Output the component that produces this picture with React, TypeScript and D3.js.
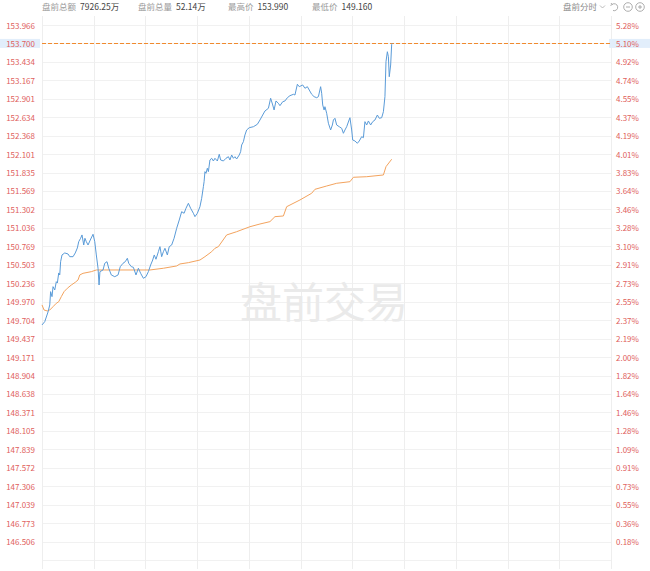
import React from 'react'
import * as d3 from 'd3'

// pre-market minutes since 04:00 and the traded price at that moment
const priceMinutes = [
  0, 1.6, 3.5, 4.5, 5.0, 5.8, 6.4, 7.4, 8.3, 8.9, 9.7, 10.3, 10.8, 11.6, 13.2, 15.1, 16.1, 18.0, 19.3, 20.5,
  21.3, 22.4, 23.2, 24.2, 24.9, 25.7, 26.7, 28.0, 29.6, 30.6, 31.5, 32.5, 33.1, 33.6, 35.4, 36.4, 37.7, 38.7, 40.2, 42.2,
  44.1, 45.4, 47.0, 48.3, 49.5, 50.3, 51.8, 53.0, 54.5, 55.9, 57.2, 58.8, 60.3, 61.7, 63.0, 64.2, 65.1, 66.1, 67.5, 68.4,
  69.4, 70.4, 71.3, 72.7, 73.8, 75.2, 76.6, 78.1, 79.6, 81.0, 82.4, 83.5, 84.9, 86.2, 87.8, 88.7, 90.1, 91.6, 92.6, 93.6,
  94.0, 94.5, 95.1, 95.9, 96.5, 97.4, 98.4, 99.4, 100.3, 101.7, 102.8, 103.6, 105.2, 106.7, 108.1, 109.0, 110.0, 111.0, 111.9, 112.9,
  114.4, 115.2, 115.8, 116.8, 117.7, 118.7, 120.2, 122.6, 124.9, 126.4, 128.0, 129.3, 131.3, 132.6, 133.8, 134.6, 135.7, 137.1, 138.0, 139.6,
  140.9, 142.3, 143.8, 145.8, 146.7, 148.1, 149.2, 151.2, 152.5, 153.9, 155.0, 156.4, 157.8, 159.3, 160.3, 161.6, 162.2, 162.8, 163.6, 164.1,
  165.1, 166.1, 167.4, 168.4, 169.0, 169.9, 170.9, 172.4, 173.8, 174.8, 175.7, 176.7, 178.1, 178.6, 179.6, 180.2, 181.5, 182.9, 184.0, 185.4,
  186.4, 187.3, 188.3, 189.3, 190.6, 191.8, 193.1, 194.5, 195.6, 197.0, 198.0, 198.9, 199.5, 200.3, 200.9, 201.4, 202.2, 202.8, 203.0,
]
const prices = [
  149.634, 149.682, 149.822, 149.923, 150.115, 150.043, 150.187, 150.139, 150.259, 150.24, 150.385, 150.356, 150.548, 150.645, 150.674, 150.659, 150.62, 150.62, 150.674, 150.746,
  150.837, 150.886, 150.934, 150.789, 150.886, 150.837, 150.789, 150.861, 150.944, 150.837, 150.645, 150.453, 150.211, 150.404, 150.428, 150.525, 150.548, 150.453, 150.356, 150.331,
  150.356, 150.476, 150.525, 150.548, 150.597, 150.525, 150.476, 150.467, 150.356, 150.453, 150.38, 150.308, 150.331, 150.404, 150.5, 150.572, 150.645, 150.583, 150.692, 150.765,
  150.62, 150.692, 150.741, 150.645, 150.765, 150.789, 150.886, 151.03, 151.15, 151.27, 151.247, 151.319, 151.391, 151.319, 151.247, 151.198, 151.247, 151.342, 151.463, 151.631,
  151.703, 151.848, 151.824, 151.897, 151.848, 152.017, 152.041, 152.002, 152.041, 152.002, 152.099, 152.017, 152.002, 152.041, 152.064, 152.017, 152.089, 152.041, 152.064, 152.031,
  152.089, 152.136, 152.233, 152.281, 152.378, 152.45, 152.483, 152.497, 152.532, 152.594, 152.666, 152.724, 152.763, 152.908, 152.811, 152.739, 152.869, 152.835, 152.801, 152.858,
  152.869, 152.916, 152.945, 152.965, 152.955, 153.11, 153.075, 153.1, 153.052, 153.075, 153.027, 152.965, 152.931, 152.916, 152.931, 153.075, 152.98, 152.811, 152.739, 152.786,
  152.691, 152.547, 152.45, 152.522, 152.594, 152.619, 152.522, 152.497, 152.474, 152.402, 152.45, 152.497, 152.594, 152.627, 152.45, 152.305, 152.291, 152.258, 152.291, 152.353,
  152.339, 152.57, 152.522, 152.58, 152.522, 152.57, 152.594, 152.666, 152.619, 152.627, 152.714, 152.931, 153.436, 153.58, 153.508, 153.219, 153.388, 153.687, 153.7,
]

// running average price
const avgMinutes = [
  0, 1.2, 3.1, 4.5, 6.4, 8.3, 9.7, 11.2, 12.8, 14.7, 17.0, 19.3, 20.9, 21.9, 23.8, 28.6, 31.5, 36.4, 55.7, 62.6,
  70.4, 78.1, 80.0, 84.9, 91.6, 94.5, 98.4, 100.3, 102.3, 107.1, 112.9, 120.6, 126.4, 132.2, 135.1, 140.0, 141.9, 149.6, 156.4, 158.3,
  165.1, 170.9, 178.6, 180.6, 188.3, 198.0, 199.5, 202.8,
]
const avgPrices = [
  149.923, 149.85, 149.836, 149.85, 149.898, 149.947, 149.97, 150.043, 150.115, 150.164, 150.211, 150.25, 150.284, 150.356, 150.38, 150.404, 150.428, 150.428, 150.428, 150.428,
  150.453, 150.486, 150.515, 150.534, 150.572, 150.62, 150.692, 150.741, 150.765, 150.934, 150.981, 151.053, 151.092, 151.126, 151.198, 151.208, 151.342, 151.439, 151.536, 151.593,
  151.641, 151.68, 151.703, 151.767, 151.775, 151.8, 151.92, 152.027,
]

const leftTicks = [
  '153.966', '153.700', '153.434', '153.167', '152.901', '152.634', '152.368', '152.101', '151.835', '151.569',
  '151.302', '151.036', '150.769', '150.503', '150.236', '149.970', '149.704', '149.437', '149.171', '148.904',
  '148.638', '148.371', '148.105', '147.839', '147.572', '147.306', '147.039', '146.773', '146.506',
]
const rightTicks = [
  '5.28%', '5.10%', '4.92%', '4.74%', '4.55%', '4.37%', '4.19%', '4.01%', '3.83%', '3.64%',
  '3.46%', '3.28%', '3.10%', '2.91%', '2.73%', '2.55%', '2.37%', '2.19%', '2.00%', '1.82%',
  '1.64%', '1.46%', '1.28%', '1.09%', '0.91%', '0.73%', '0.55%', '0.36%', '0.18%',
]
const prevClose = 146.2396
const lastPrice = 153.7

const summaryLabels = ['盘前总额', '盘前总量', '最高价', '最低价']
const summaryValues = ['7926.25万', '52.14万', '153.990', '149.160']
const summaryX = [42, 138, 228, 312]

const W = 650
const H = 571
const left = 42
const right = 611
const top = 16
const bottom = 569
const font = '"Noto Sans CJK SC", "Noto Sans", sans-serif'

// snap a coordinate to the pixel grid so 1px lines stay sharp
const px = (v: number) => Math.round(v) + 0.5

export default function App() {
  const x = d3.scaleLinear().domain([0, 330]).range([left, right])
  const y = d3.scaleLinear().domain([prevClose, 153.966]).range([560, 25])

  const priceLine = d3
    .line<number>()
    .x((_, i) => x(priceMinutes[i]))
    .y((d) => y(d))
  const avgLine = d3
    .line<number>()
    .x((_, i) => x(avgMinutes[i]))
    .y((d) => y(d))

  const vLines = d3.range(0, 331, 30)
  const yLast = y(lastPrice)

  return (
    <div style={{ position: 'absolute', left: 0, top: 0 }}>
      <svg width={W} height={H} style={{ display: 'block', fontFamily: font }}>
        <rect width={W} height={H} fill="#fff" />

        {/* summary bar */}
        {summaryLabels.map((l, i) => (
          <text key={l} x={summaryX[i]} y={10} fontSize={8.5}>
            <tspan fill="#9a9a9a">{l}</tspan>
            <tspan dx={4} fill="#444">{summaryValues[i]}</tspan>
          </text>
        ))}
        <text x={563} y={10} fontSize={8.5} fill="#8a8a8a">盘前分时</text>
        <path d="M600,5.5 L602.5,8 L605,5.5" fill="none" stroke="#aaa" strokeWidth={0.8} />
        <path d="M612,4.5 A3.5,3.5 0 1 1 613,10.5" fill="none" stroke="#999" strokeWidth={0.8} />
        <path d="M611,3 L612.2,4.6 L610.4,5.4" fill="none" stroke="#999" strokeWidth={0.8} />
        <circle cx={628} cy={7} r={4.3} fill="none" stroke="#999" strokeWidth={0.8} />
        <line x1={626} x2={630} y1={7} y2={7} stroke="#999" strokeWidth={0.8} />
        <circle cx={640} cy={7} r={4.3} fill="none" stroke="#999" strokeWidth={0.8} />
        <line x1={638} x2={642} y1={7} y2={7} stroke="#999" strokeWidth={0.8} />
        <line x1={640} x2={640} y1={5} y2={9} stroke="#999" strokeWidth={0.8} />

        {/* grid */}
        {leftTicks.map((t) => (
          <line key={t} x1={left} x2={right} y1={px(y(+t))} y2={px(y(+t))} stroke="#f1f1f1" />
        ))}
        <line x1={left} x2={right} y1={px(y(prevClose))} y2={px(y(prevClose))} stroke="#f1f1f1" />
        {vLines.map((m) => (
          <line key={m} x1={px(x(m))} x2={px(x(m))} y1={top} y2={bottom} stroke="#eeeeee" />
        ))}

        {/* watermark */}
        <text x={324} y={299} fontSize={42} fill="#eaeaea" textAnchor="middle" dominantBaseline="central">
          盘前交易
        </text>

        {/* axis labels */}
        <rect x={0} y={yLast - 4.5} width={40} height={9} fill="#e2eefb" />
        <rect x={609} y={yLast - 4.5} width={41} height={9} fill="#e2eefb" />
        {leftTicks.map((t) => (
          <text key={t} x={35} y={y(+t)} fontSize={8} fill="#e0605c" textAnchor="end" dominantBaseline="central">
            {t}
          </text>
        ))}
        {rightTicks.map((t, i) => (
          <text key={t} x={616} y={y(+leftTicks[i])} fontSize={8} fill="#e0605c" dominantBaseline="central">
            {t}
          </text>
        ))}

        {/* last price */}
        <line x1={left} x2={right} y1={px(yLast)} y2={px(yLast)} stroke="#f08a2e" strokeDasharray="4,2" />

        <path d={avgLine(avgPrices) ?? ''} fill="none" stroke="#f3a35e" strokeWidth={1} />
        <path d={priceLine(prices) ?? ''} fill="none" stroke="#5a9bd8" strokeWidth={1} />
      </svg>
    </div>
  )
}
